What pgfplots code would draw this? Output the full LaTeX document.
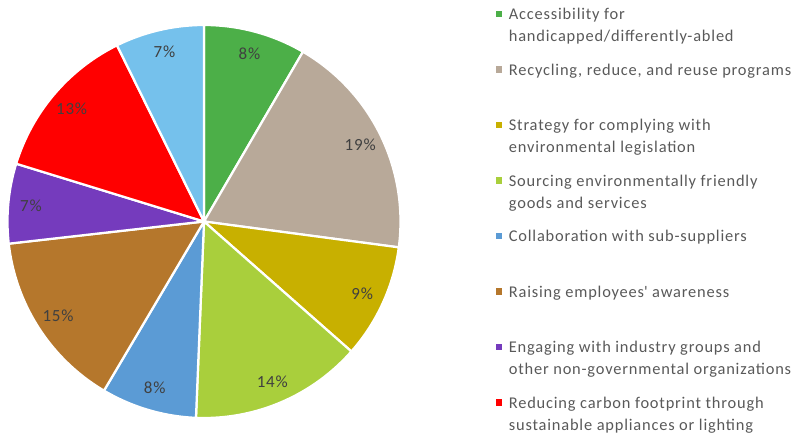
\documentclass[border=0pt]{standalone}
\usepackage{pgfplots}
\pgfplotsset{compat=1.18}
\usepackage{fontspec}
\setmainfont{Carlito}[LetterSpace=5.0]
\definecolor{cgreen}{RGB}{76,175,72}
\definecolor{cbeige}{RGB}{184,169,153}
\definecolor{cyellow}{RGB}{200,176,0}
\definecolor{clgreen}{RGB}{169,207,60}
\definecolor{cblue}{RGB}{91,155,213}
\definecolor{cbrown}{RGB}{181,119,44}
\definecolor{cpurple}{RGB}{117,59,189}
\definecolor{cred}{RGB}{255,0,0}
\definecolor{cltblue}{RGB}{117,193,236}
\definecolor{legtext}{RGB}{89,89,89}
\definecolor{labtext}{RGB}{64,64,64}
\newcommand\lent[1]{\parbox[t]{290bp}{#1}}
% slice: colour, start %, end %, label
\newcommand\slice[4]{%
  \addplot[fill=#1, draw=white, line width=2.25bp, line join=round,
    domain={90-3.6*(#3)}:{90-3.6*(#2)}, samples=80]
    ({cos(x)},{sin(x)}) -- (axis cs:0,0) -- cycle;
  \node[text=labtext, font=\fontsize{17bp}{20bp}\selectfont]
    at (axis cs:{0.885*cos(90-1.8*(#2+#3))},{0.885*sin(90-1.8*(#2+#3))}) {#4};
}
\begin{document}
\begin{tikzpicture}
\useasboundingbox (0bp,0bp) rectangle (795bp,-436bp);
\begin{axis}[
  scale only axis, width=393bp, height=393bp,
  xmin=-1, xmax=1, ymin=-1, ymax=1,
  hide axis, clip=false,
  at={(204bp,-221.5bp)}, anchor=center,
  legend style={draw=none, fill=none, inner sep=0pt, outer sep=0pt,
    at={(1.2427,1.0445)}, anchor=north west,
    font=\fontsize{16.4bp}{22bp}\selectfont, text=legtext,
    nodes={inner sep=0pt, outer sep=0pt, text height=12bp, text depth=43.5bp},
    cells={anchor=base west},
    row sep=0pt, column sep=6.5bp},
  legend image code/.code={\fill[#1,draw=none] (0bp,2.2bp) rectangle (6.5bp,8.7bp);},
]
\slice{cgreen}{0}{8.4}{8\%}
\addlegendentry{\lent{Accessibility for\\handicapped/differently-abled}}
\slice{cbeige}{8.4}{27.1}{19\%}
\addlegendentry{\lent{Recycling, reduce, and reuse programs}}
\slice{cyellow}{27.1}{36.5}{9\%}
\addlegendentry{\lent{Strategy for complying with\\environmental legislation}}
\slice{clgreen}{36.5}{50.65}{14\%}
\addlegendentry{\lent{Sourcing environmentally friendly\\goods and services}}
\slice{cblue}{50.65}{58.5}{8\%}
\addlegendentry{\lent{Collaboration with sub-suppliers}}
\slice{cbrown}{58.5}{73.2}{15\%}
\addlegendentry{\lent{Raising employees\textquotesingle\ awareness}}
\slice{cpurple}{73.2}{79.75}{7\%}
\addlegendentry{\lent{Engaging with industry groups and\\other non-governmental organizations}}
\slice{cred}{79.75}{92.7}{13\%}
\addlegendentry{\lent{Reducing carbon footprint through\\sustainable appliances or lighting}}
\slice{cltblue}{92.7}{100}{7\%}
\end{axis}
\end{tikzpicture}
\end{document}
